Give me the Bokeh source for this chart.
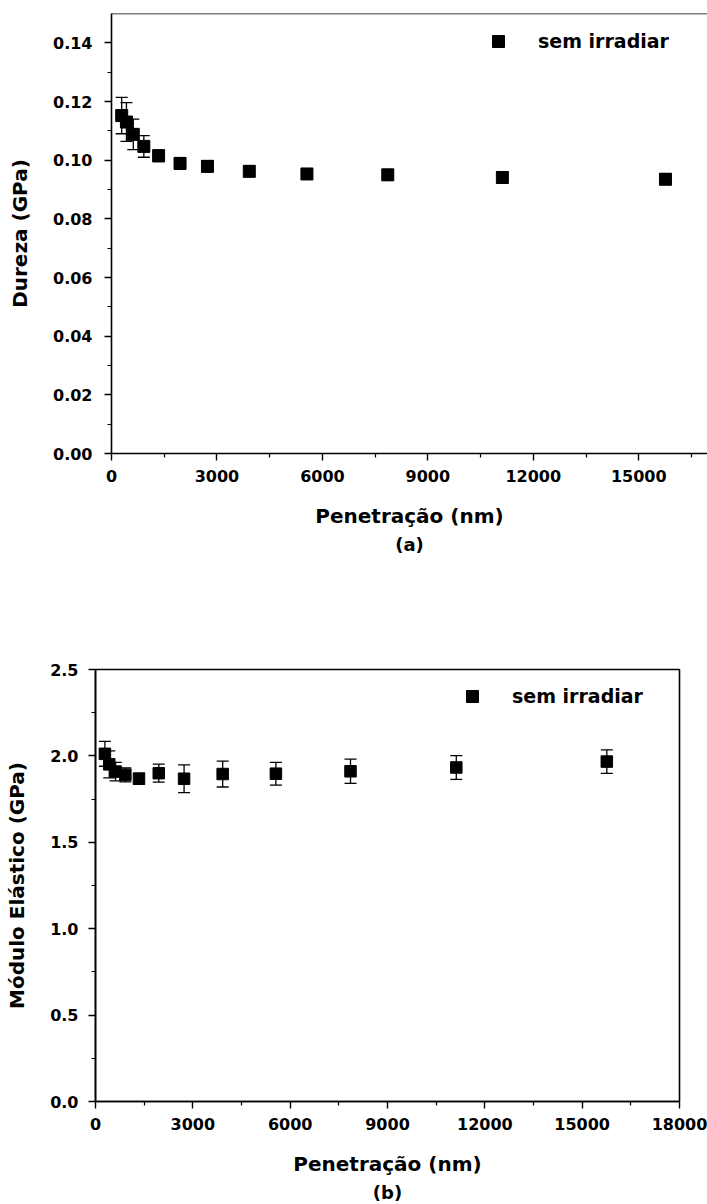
from bokeh.plotting import figure
from bokeh.layouts import column
from bokeh.models import (ColumnDataSource, Whisker, TeeHead, FixedTicker, NumeralTickFormatter,
                          Span, Title, Legend, LegendItem)
from bokeh.embed import file_html
from bokeh.resources import INLINE

# ---------------- data ----------------
penetracao = [290, 425, 620, 920, 1340, 1950, 2730, 3920, 5560, 7860, 11120, 15760]

dureza = [0.1152, 0.1130, 0.1088, 0.1047, 0.1015, 0.0989, 0.0979, 0.0962, 0.0953, 0.0950, 0.0941, 0.0935]
dureza_err = [0.0062, 0.0066, 0.0052, 0.0037, 0.0020, 0.0020, 0.0019, 0.0018, 0.0018, 0.0018, 0.0018, 0.0018]

modulo = [2.012, 1.951, 1.909, 1.890, 1.868, 1.900, 1.868, 1.895, 1.897, 1.911, 1.933, 1.967]
modulo_err = [0.072, 0.078, 0.053, 0.040, 0.032, 0.052, 0.080, 0.075, 0.066, 0.070, 0.069, 0.068]

x_ticks = [0, 3000, 6000, 9000, 12000, 15000, 18000]
x_minor = [1500, 4500, 7500, 10500, 13500, 16500]
dureza_ticks = [0.00, 0.02, 0.04, 0.06, 0.08, 0.10, 0.12, 0.14]
dureza_minor = [0.01, 0.03, 0.05, 0.07, 0.09, 0.11, 0.13]
modulo_ticks = [0.0, 0.5, 1.0, 1.5, 2.0, 2.5]
modulo_minor = [0.25, 0.75, 1.25, 1.75, 2.25]

serie = "sem irradiar"

FONT = "DejaVu Sans"
TICK_SIZE = "16px"
LABEL_SIZE = "20px"


def style_axes(p, ylab_standoff):
    for ax in (p.xaxis[0], p.yaxis[0]):
        ax.axis_line_width = 1.6
        ax.axis_line_color = "black"
        ax.major_tick_line_width = 1.4
        ax.minor_tick_line_width = 1.2
        ax.major_tick_out = 7
        ax.major_tick_in = 0
        ax.minor_tick_out = 4
        ax.minor_tick_in = 0
        ax.major_label_text_font = FONT
        ax.major_label_text_font_style = "bold"
        ax.major_label_text_font_size = TICK_SIZE
        ax.major_label_text_color = "black"
        ax.axis_label_text_font = FONT
        ax.axis_label_text_font_style = "bold"
        ax.axis_label_text_font_size = LABEL_SIZE
        ax.axis_label_text_color = "black"
    p.xaxis[0].major_label_standoff = 9
    p.yaxis[0].major_label_standoff = ylab_standoff
    p.xaxis[0].axis_label_standoff = 19
    p.yaxis[0].axis_label_standoff = 18
    p.xgrid.visible = False
    p.ygrid.visible = False


def add_legend(p, r, loc):
    leg = Legend(items=[LegendItem(label=serie, renderers=[r])], location=loc,
                 glyph_width=30, glyph_height=30, label_height=30, label_standoff=25,
                 padding=0, margin=0, spacing=0,
                 border_line_color=None, background_fill_alpha=0,
                 label_text_font=FONT, label_text_font_style="bold",
                 label_text_font_size="19px", label_text_color="black")
    p.add_layout(leg)


# ---------------- top panel (a) ----------------
H1 = 570
p1 = figure(width=707, height=H1, x_range=(0, 16956), y_range=(0, 0.15),
            output_backend="svg", toolbar_location=None, frame_align=False,
            min_border_left=111, min_border_right=0, min_border_top=13,
            min_border_bottom=H1 - 13 - 440,
            background_fill_color="white", border_fill_color="white",
            outline_line_color=None)
src1 = ColumnDataSource(dict(x=penetracao, y=dureza,
                             upper=[v + e for v, e in zip(dureza, dureza_err)],
                             lower=[v - e for v, e in zip(dureza, dureza_err)]))
p1.add_layout(Whisker(base="x", upper="upper", lower="lower", source=src1,
                      line_width=1.3, line_color="black",
                      upper_head=TeeHead(size=12, line_width=1.3, line_color="black"),
                      lower_head=TeeHead(size=12, line_width=1.3, line_color="black")))
r1 = p1.scatter("x", "y", source=src1, marker="square", size=12,
                fill_color="black", line_color="black")
p1.xaxis[0].ticker = FixedTicker(ticks=x_ticks, minor_ticks=x_minor)
p1.yaxis[0].ticker = FixedTicker(ticks=dureza_ticks, minor_ticks=dureza_minor)
p1.xaxis[0].formatter = NumeralTickFormatter(format="0")
p1.yaxis[0].formatter = NumeralTickFormatter(format="0.00")
p1.xaxis[0].axis_label = "Penetração (nm)"
p1.yaxis[0].axis_label = "Dureza (GPa)"
style_axes(p1, 12)
p1.add_layout(Span(location=0.15, dimension="width", line_color="black", line_width=1.6))
add_legend(p1, r1, (372, 397))
p1.add_layout(Title(text="(a)", align="center", text_font=FONT, text_font_style="bold",
                    text_font_size="18px", text_color="black", standoff=3), "below")

# ---------------- bottom panel (b) ----------------
H2 = 1204 - H1
p2 = figure(width=707, height=H2, x_range=(0, 18000), y_range=(0, 2.5),
            output_backend="svg", toolbar_location=None, frame_align=False,
            min_border_left=95, min_border_right=28, min_border_top=99,
            min_border_bottom=H2 - 99 - 434,
            background_fill_color="white", border_fill_color="white",
            outline_line_color="black", outline_line_width=1.6)
src2 = ColumnDataSource(dict(x=penetracao, y=modulo,
                             upper=[v + e for v, e in zip(modulo, modulo_err)],
                             lower=[v - e for v, e in zip(modulo, modulo_err)]))
p2.add_layout(Whisker(base="x", upper="upper", lower="lower", source=src2,
                      line_width=1.3, line_color="black",
                      upper_head=TeeHead(size=12, line_width=1.3, line_color="black"),
                      lower_head=TeeHead(size=12, line_width=1.3, line_color="black")))
r2 = p2.scatter("x", "y", source=src2, marker="square", size=11.5,
                fill_color="black", line_color="black")
p2.xaxis[0].ticker = FixedTicker(ticks=x_ticks, minor_ticks=x_minor)
p2.yaxis[0].ticker = FixedTicker(ticks=modulo_ticks, minor_ticks=modulo_minor)
p2.xaxis[0].formatter = NumeralTickFormatter(format="0")
p2.yaxis[0].formatter = NumeralTickFormatter(format="0.0")
p2.xaxis[0].axis_label = "Penetração (nm)"
p2.yaxis[0].axis_label = "Módulo Elástico (GPa)"
style_axes(p2, 10)
add_legend(p2, r2, (362, 390))
p2.add_layout(Title(text="(b)", align="center", text_font=FONT, text_font_style="bold",
                    text_font_size="18px", text_color="black", standoff=3), "below")

layout = column(p1, p2, spacing=0)
open("out.html", "w").write(file_html(layout, INLINE))
